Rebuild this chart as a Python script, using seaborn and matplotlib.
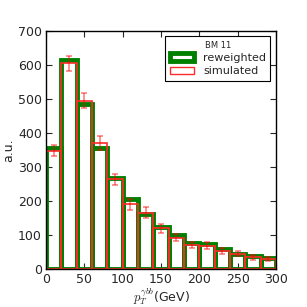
import numpy as np
import matplotlib
matplotlib.use('Agg')
import matplotlib.pyplot as plt
import seaborn as sns
from matplotlib.patches import Patch

# bin edges for pT of the gamma-bb system (GeV)
bin_edges = [0, 20, 40, 60, 80, 100, 120, 140, 160, 180, 200, 220, 240, 260, 280, 300]
bin_centers = [10, 30, 50, 70, 90, 110, 130, 150, 170, 190, 210, 230, 250, 270, 290]

# bin contents
reweighted = [357, 614, 486, 357, 269, 206, 163, 123, 101, 77, 73, 58, 44, 39, 32]
simulated = [348, 605, 494, 371, 264, 190, 166, 120, 93, 70, 69, 54, 46, 35, 31]
sim_err = [16, 22, 22, 21, 16, 16, 16, 13, 11, 9, 11, 9, 7, 8, 6]

sns.set_style("ticks")
plt.rcParams['font.family'] = ['DejaVu Sans']
plt.rcParams['mathtext.fontset'] = 'cm'

fig = plt.figure(figsize=(3.07, 3.07), dpi=100)
ax = fig.add_axes([0.15, 0.123, 0.749, 0.777])

# reweighted histogram: thick green outline
sns.histplot(x=bin_centers, weights=reweighted, bins=bin_edges, element='bars',
             fill=False, color='green', linewidth=3.5, ax=ax, zorder=2)
# simulated histogram: thin red outline
sns.histplot(x=bin_centers, weights=simulated, bins=bin_edges, element='bars',
             fill=False, color='#ff2a2a', linewidth=1.2, ax=ax, zorder=3)
ax.errorbar(bin_centers, simulated, yerr=sim_err, fmt='none', ecolor='red',
            alpha=0.5, elinewidth=1.2, capsize=2.5, capthick=1.2, zorder=4)

ax.set_xlim(0, 300)
ax.set_ylim(0, 700)
ax.set_xticks(np.arange(0, 301, 50))
ax.set_yticks(np.arange(0, 701, 100))
ax.tick_params(direction='in', top=True, right=True, labelsize=9, length=4, pad=3)
for s in ax.spines.values():
    s.set_linewidth(1.0)
    s.set_color('black')
    s.set_zorder(5)

ax.set_xlabel(r'$p_T^{\gamma bb}$(GeV)', fontsize=9, labelpad=0)
ax.set_ylabel('a.u.', fontsize=9, labelpad=2)

handles = [Patch(facecolor='white', edgecolor='green', linewidth=3.5),
           Patch(facecolor='white', edgecolor='#ff2a2a', linewidth=1.0)]
leg = ax.legend(handles, ['reweighted', 'simulated'], title='BM 11', loc='upper right',
                fontsize=8, title_fontsize=6, fancybox=False, framealpha=1,
                edgecolor='black', handlelength=2.2, borderpad=0.4, labelspacing=0.3)
leg.get_frame().set_linewidth(0.8)
leg.set_zorder(6)

plt.savefig('out.png', dpi=100)
